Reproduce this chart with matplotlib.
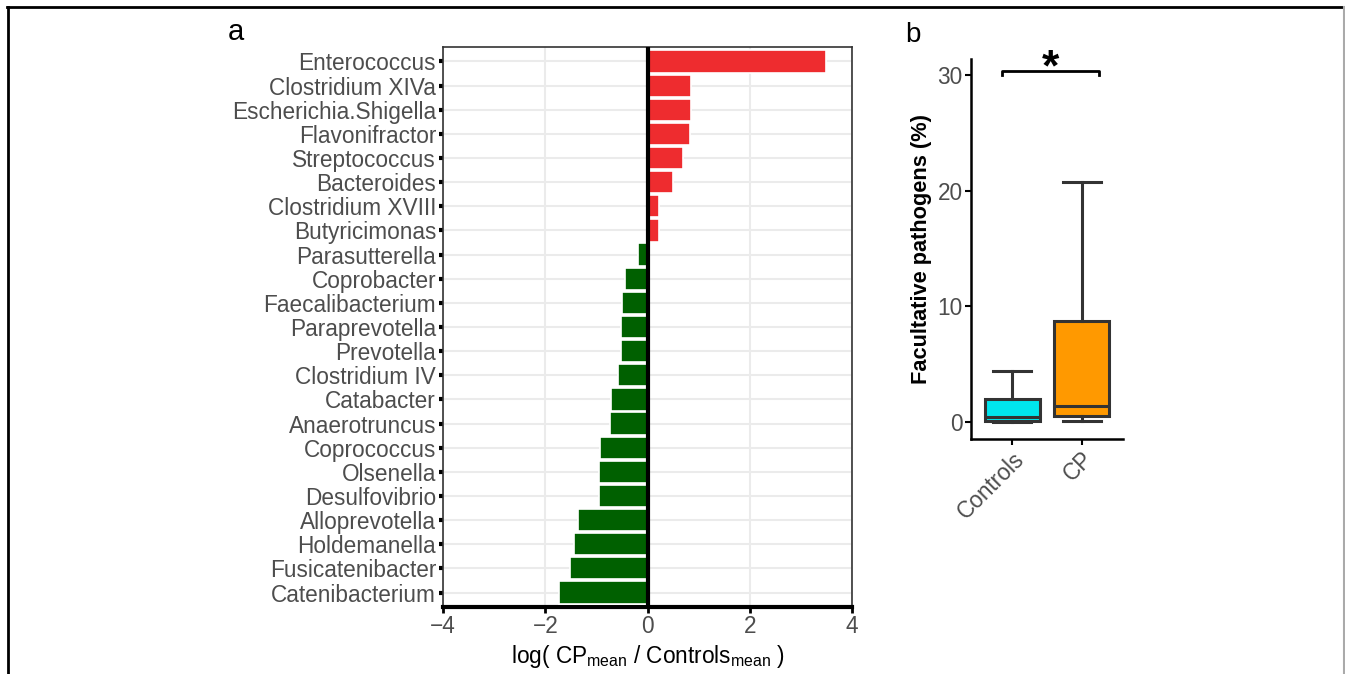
import numpy as np
import matplotlib
matplotlib.use("Agg")
import matplotlib.pyplot as plt
from matplotlib.lines import Line2D

plt.rcParams['font.family'] = ['Liberation Sans', 'DejaVu Sans']
plt.rcParams['mathtext.fontset'] = 'custom'
plt.rcParams['mathtext.rm'] = 'Liberation Sans'

# panel a: log fold change per genus (top to bottom)
genera = ["Enterococcus", "Clostridium XIVa", "Escherichia.Shigella", "Flavonifractor",
          "Streptococcus", "Bacteroides", "Clostridium XVIII", "Butyricimonas",
          "Parasutterella", "Coprobacter", "Faecalibacterium", "Paraprevotella",
          "Prevotella", "Clostridium IV", "Catabacter", "Anaerotruncus",
          "Coprococcus", "Olsenella", "Desulfovibrio", "Alloprevotella",
          "Holdemanella", "Fusicatenibacter", "Catenibacterium"]
log_ratio = [3.49, 0.85, 0.85, 0.83, 0.70, 0.50, 0.23, 0.23,
             -0.19, -0.44, -0.49, -0.52, -0.52, -0.58, -0.71, -0.74,
             -0.92, -0.94, -0.94, -1.35, -1.44, -1.51, -1.73]

# panel b: boxplot stats of facultative pathogens (%)
groups = ["Controls", "CP"]
whis_lo = [0.0, 0.08]
q1 = [0.05, 0.55]
med = [0.40, 1.41]
q3 = [2.0, 8.76]
whis_hi = [4.4, 20.8]
box_colors = ["#00E5EE", "#FF9900"]
bracket_x = [0.85, 2.25]
bracket_y = [30.0, 30.4]

W, H = 1345, 674
fig = plt.figure(figsize=(W / 100, H / 100), dpi=100)

def px_axes(l, t, r, b):
    return fig.add_axes([l / W, 1 - b / H, (r - l) / W, (b - t) / H])

grey = "#4D4D4D"
fs = 16.3

# ---- panel a
ax = px_axes(443, 47, 852, 607)
y = np.arange(len(genera))[::-1]
cols = ["#EE2C2F" if v > 0 else "#006000" for v in log_ratio]
ax.barh(y, log_ratio, height=0.92, color=cols, edgecolor="white", linewidth=1.2, zorder=3)
ax.axvline(0, color="black", lw=3, zorder=4)
ax.set_xlim(-4, 4)
ax.set_ylim(-0.6, len(genera) - 0.4)
ax.set_yticks(y)
ax.set_yticklabels(genera)
ax.set_xticks([-4, -2, 0, 2, 4])
ax.grid(True, color="#EBEBEB", lw=1.5, zorder=0)
ax.set_axisbelow(True)
ax.tick_params(axis="y", length=3, width=3, color="black", labelsize=fs, labelcolor=grey, pad=2)
ax.tick_params(axis="x", length=4, width=2, color="black", labelsize=fs, labelcolor=grey, pad=2)
for s in ["top", "right", "left"]:
    ax.spines[s].set_color("#333333")
    ax.spines[s].set_linewidth(1.2)
ax.spines["bottom"].set_color("black")
ax.spines["bottom"].set_linewidth(3)
ax.set_xlabel(r"log( CP$_{\mathregular{mean}}$ / Controls$_{\mathregular{mean}}$ )", fontsize=fs, labelpad=3)
fig.text(228 / W, 1 - 32 / H, "a", fontsize=21, va="center", ha="left")

# ---- panel b
bx = px_axes(971, 59, 1123, 439)
stats = [dict(med=med[i], q1=q1[i], q3=q3[i], whislo=whis_lo[i], whishi=whis_hi[i], fliers=[])
         for i in range(len(groups))]
art = bx.bxp(stats, positions=[1, 2], widths=0.8, capwidths=0.55, patch_artist=True,
             showfliers=False,
             boxprops=dict(edgecolor="#333333", linewidth=2.2),
             medianprops=dict(color="#333333", linewidth=2.2),
             whiskerprops=dict(color="#333333", linewidth=2.2),
             capprops=dict(color="#333333", linewidth=2.2))
for patch, c in zip(art["boxes"], box_colors):
    patch.set_facecolor(c)
bx.set_xlim(0.4, 2.6)
bx.set_ylim(-1.47, 31.4)
bx.set_xticks([1, 2])
bx.set_xticklabels(groups, rotation=45, ha="right", rotation_mode="anchor")
bx.set_yticks([0, 10, 20, 30])
bx.tick_params(length=4, width=1.5, color="black", labelsize=fs, labelcolor=grey, pad=2)
for s in ["top", "right"]:
    bx.spines[s].set_visible(False)
for s in ["left", "bottom"]:
    bx.spines[s].set_linewidth(1.8)
bx.set_ylabel("Facultative pathogens (%)", fontsize=15.7, fontweight="bold", labelpad=4)
bx.plot([bracket_x[0], bracket_x[0], bracket_x[1], bracket_x[1]],
        [bracket_y[0], bracket_y[1], bracket_y[1], bracket_y[0]],
        color="black", lw=2, clip_on=False)
bx.text(np.mean(bracket_x), bracket_y[1] - 1.6, "*", fontsize=32, fontweight="bold",
        ha="center", va="bottom", clip_on=False)
fig.text(905 / W, 1 - 35 / H, "b", fontsize=20, va="center", ha="left")

# outer frame
fig.add_artist(Line2D([7 / W, 1], [1 - 7 / H, 1 - 7 / H], color="black", lw=2, transform=fig.transFigure))
fig.add_artist(Line2D([7.5 / W, 7.5 / W], [0, 1 - 7 / H], color="black", lw=2, transform=fig.transFigure))
fig.add_artist(Line2D([1343.5 / W, 1343.5 / W], [0, 1 - 7 / H], color="#AAAAAA", lw=1.5, transform=fig.transFigure))

fig.savefig("out.png", dpi=100)
